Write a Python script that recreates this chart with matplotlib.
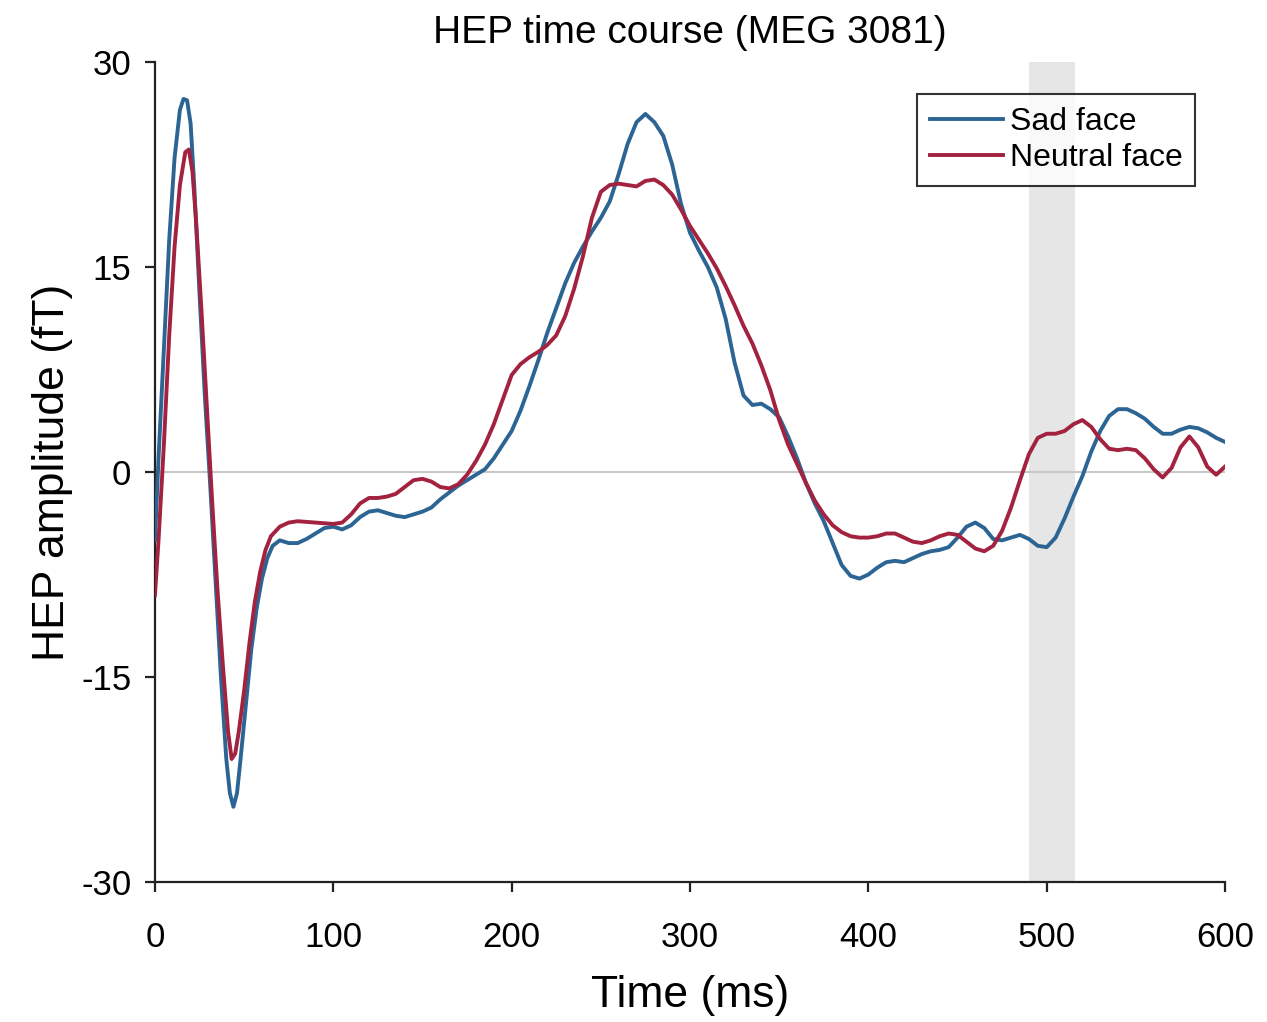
import matplotlib
matplotlib.use("Agg")
import matplotlib.pyplot as plt

plt.rcParams["font.family"] = ["Liberation Sans", "DejaVu Sans"]
plt.rcParams["axes.unicode_minus"] = False

# sad face condition (fT), sampled in ms
sad_t = [0, 2, 5, 8, 11, 14, 16, 18, 20, 22, 25, 28, 31, 34, 37, 40, 42, 44, 46, 48,
         51, 54, 57, 60, 63, 66, 70, 75, 80, 85, 90, 95, 100, 105, 110, 115, 120, 125,
         130, 135, 140, 145, 150, 155, 160, 165, 170, 175, 180, 185, 190, 195, 200,
         205, 210, 215, 220, 225, 230, 235, 240, 245, 250, 255, 260, 265, 270, 275,
         280, 285, 290, 295, 300, 305, 310, 315, 320, 325, 330, 335, 340, 345, 350,
         355, 360, 365, 370, 375, 380, 385, 390, 395, 400, 405, 410, 415, 420, 425,
         430, 435, 440, 445, 450, 455, 460, 465, 470, 475, 480, 485, 490, 495, 500,
         505, 510, 515, 520, 525, 530, 535, 540, 545, 550, 555, 560, 565, 570, 575,
         580, 585, 590, 595, 600]
sad_amp = [-5.0, 1.0, 9.0, 17.0, 23.0, 26.5, 27.3, 27.2, 25.5, 21.0, 13.0, 5.5, -1.0,
           -8.0, -15.0, -21.0, -23.5, -24.5, -23.5, -21.0, -17.0, -13.0, -10.0, -7.8,
           -6.3, -5.4, -5.0, -5.2, -5.2, -4.9, -4.5, -4.1, -4.0, -4.2, -3.9, -3.3, -2.9,
           -2.8, -3.0, -3.2, -3.3, -3.1, -2.9, -2.6, -2.0, -1.5, -1.0, -0.6, -0.2, 0.2,
           1.0, 2.0, 3.0, 4.5, 6.3, 8.2, 10.2, 12.0, 13.8, 15.3, 16.5, 17.6, 18.6, 19.8,
           21.8, 24.0, 25.6, 26.2, 25.6, 24.6, 22.5, 19.6, 17.5, 16.2, 15.0, 13.5, 11.2,
           8.0, 5.6, 4.9, 5.0, 4.6, 4.0, 2.6, 1.0, -0.8, -2.3, -3.6, -5.2, -6.8, -7.6,
           -7.8, -7.5, -7.0, -6.6, -6.5, -6.6, -6.3, -6.0, -5.8, -5.7, -5.5, -4.8, -4.0,
           -3.7, -4.1, -4.9, -5.0, -4.8, -4.6, -4.9, -5.4, -5.5, -4.8, -3.4, -1.8, -0.3,
           1.5, 3.0, 4.1, 4.6, 4.6, 4.3, 3.9, 3.3, 2.8, 2.8, 3.1, 3.3, 3.2, 2.9, 2.5, 2.2]

# neutral face condition (fT)
neutral_t = [0, 2, 5, 8, 11, 14, 17, 19, 21, 23, 26, 29, 32, 35, 38, 41, 43, 45, 47,
             50, 53, 56, 59, 62, 65, 70, 75, 80, 90, 100, 105, 110, 115, 120, 125, 130,
             135, 140, 145, 150, 155, 160, 165, 170, 175, 180, 185, 190, 195, 200, 205,
             210, 215, 220, 225, 230, 235, 240, 245, 250, 255, 260, 265, 270, 275, 280,
             285, 290, 295, 300, 305, 310, 315, 320, 325, 330, 335, 340, 345, 350, 355,
             360, 365, 370, 375, 380, 385, 390, 395, 400, 405, 410, 415, 420, 425, 430,
             435, 440, 445, 450, 455, 460, 465, 470, 475, 480, 485, 490, 495, 500, 505,
             510, 515, 520, 525, 530, 535, 540, 545, 550, 555, 560, 565, 570, 575, 580,
             585, 590, 595, 600]
neutral_amp = [-9.0, -5.0, 2.0, 10.0, 16.5, 21.0, 23.4, 23.6, 22.0, 18.5, 12.0, 5.0,
               -2.0, -8.5, -14.0, -19.0, -21.0, -20.6, -19.0, -16.0, -12.5, -9.5, -7.3,
               -5.7, -4.7, -4.0, -3.7, -3.6, -3.7, -3.8, -3.7, -3.1, -2.3, -1.9, -1.9,
               -1.8, -1.6, -1.1, -0.6, -0.5, -0.7, -1.1, -1.2, -0.9, -0.2, 0.8, 2.0, 3.5,
               5.3, 7.1, 7.9, 8.4, 8.8, 9.3, 10.0, 11.4, 13.4, 15.8, 18.6, 20.5, 21.0,
               21.1, 21.0, 20.9, 21.3, 21.4, 21.0, 20.3, 19.2, 18.0, 17.0, 16.0, 14.9,
               13.6, 12.2, 10.7, 9.4, 7.8, 6.0, 3.8, 2.0, 0.6, -0.8, -2.1, -3.1, -3.9,
               -4.4, -4.7, -4.8, -4.8, -4.7, -4.5, -4.5, -4.8, -5.1, -5.2, -5.0, -4.7,
               -4.5, -4.6, -5.1, -5.6, -5.8, -5.4, -4.3, -2.6, -0.6, 1.3, 2.5, 2.8, 2.8,
               3.0, 3.5, 3.8, 3.3, 2.4, 1.7, 1.6, 1.7, 1.6, 1.0, 0.2, -0.4, 0.3, 1.8, 2.6,
               1.8, 0.4, -0.2, 0.4]

# significant window (ms)
sig_window = (490, 516)

x_ticks = [0, 100, 200, 300, 400, 500, 600]
y_ticks = [-30, -15, 0, 15, 30]

fig = plt.figure(figsize=(12.67, 10.22), dpi=100)
ax = fig.add_axes([0.1223, 0.137, 0.8446, 0.8023])

ax.axvspan(sig_window[0], sig_window[1], color="#e6e6e6", lw=0, zorder=0)
ax.axhline(0, color="#c8c8c8", lw=1.5, zorder=1)

ax.plot(sad_t, sad_amp, color="#2c6594", lw=2.8, label="Sad face", zorder=3,
        solid_joinstyle="round")
ax.plot(neutral_t, neutral_amp, color="#a2223f", lw=2.8, label="Neutral face",
        zorder=3, solid_joinstyle="round")

ax.set_xlim(0, 600)
ax.set_ylim(-30, 30)
ax.set_xticks(x_ticks)
ax.set_yticks(y_ticks)

for side in ["top", "right"]:
    ax.spines[side].set_visible(False)
for side in ["left", "bottom"]:
    ax.spines[side].set_linewidth(1.6)
    ax.spines[side].set_color("#222222")

ax.tick_params(direction="out", length=7, width=1.6, labelsize=25, pad=10,
               color="#222222")
ax.tick_params(axis="x", pad=21)

ax.set_title("HEP time course (MEG 3081)", fontsize=28, pad=14)
ax.set_xlabel("Time (ms)", fontsize=32, labelpad=15)
ax.set_ylabel("HEP amplitude (fT)", fontsize=32, labelpad=6)

leg = ax.legend(loc="upper right", bbox_to_anchor=(0.972, 0.961), fontsize=23,
                frameon=True, fancybox=False, handlelength=2.3, handletextpad=0.2,
                borderpad=0.4, labelspacing=0.2, borderaxespad=0)
leg.get_frame().set_edgecolor("black")
leg.get_frame().set_linewidth(1.5)

fig.savefig("out.png", dpi=100)
